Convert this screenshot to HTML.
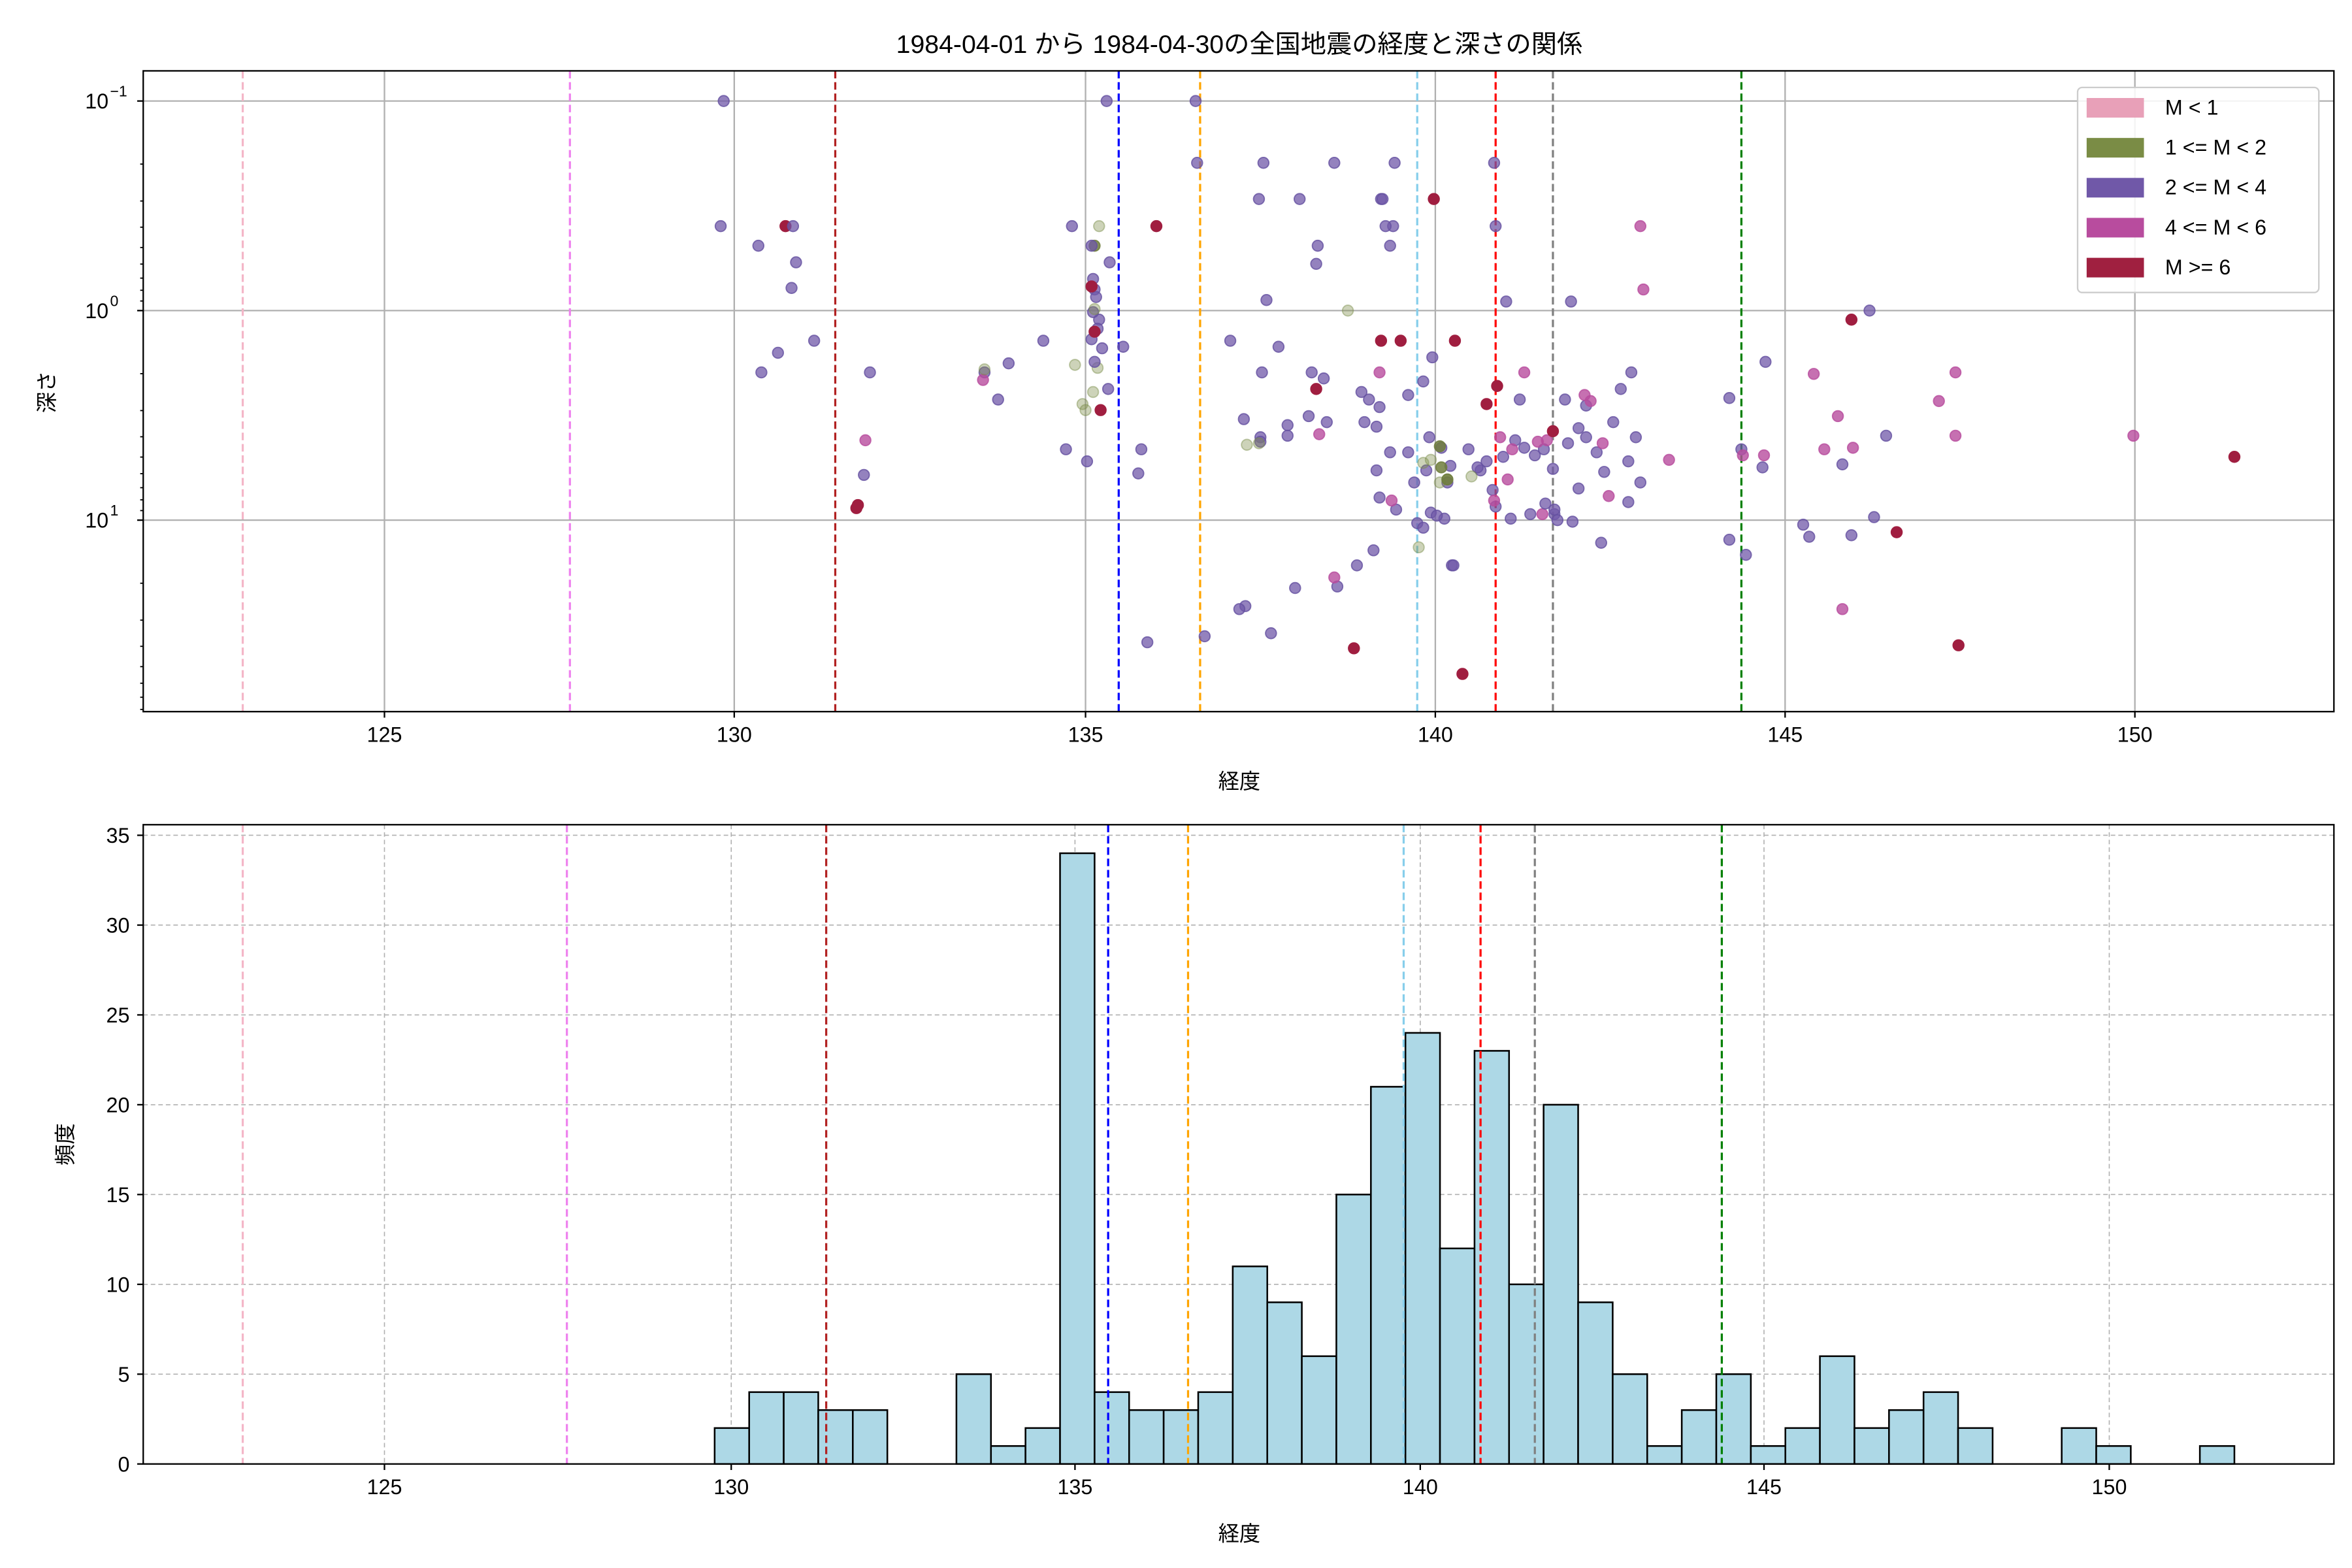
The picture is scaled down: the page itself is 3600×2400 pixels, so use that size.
<!DOCTYPE html>
<html><head><meta charset="utf-8"><style>
html,body{margin:0;padding:0;background:#fff}
svg{display:block}
text{font-family:"Liberation Sans","Noto Sans CJK JP",sans-serif;fill:#000}
</style></head><body>
<svg id="s" xmlns="http://www.w3.org/2000/svg" width="3600" height="2400" viewBox="0 0 1560 1040">
<rect width="1560" height="1040" fill="#fff"/>
<g id="top"></g><g id="bot"></g>
<text x="822" y="35" font-size="17" text-anchor="middle">1984-04-01 から 1984-04-30の全国地震の経度と深さの関係</text>
<text x="822" y="523" font-size="14" text-anchor="middle">経度</text>
<text x="822" y="1022" font-size="14" text-anchor="middle">経度</text>
<text transform="translate(36,260) rotate(-90)" font-size="14" text-anchor="middle">深さ</text>
<text transform="translate(48,759) rotate(-90)" font-size="14" text-anchor="middle">頻度</text>
</svg>
<script>
const NS="http://www.w3.org/2000/svg";
function el(p,t,a,txt){const e=document.createElementNS(NS,t);for(const k in a)e.setAttribute(k,a[k]);if(txt!==undefined)e.textContent=txt;p.appendChild(e);return e;}
const T=document.getElementById('top'),B=document.getElementById('bot');
// top axes 95..1548, 47..472
const tx=[[125,255],[130,487],[135,720],[140,952],[145,1184],[150,1416]];
tx.forEach(([v,x])=>{el(T,'line',{x1:x,x2:x,y1:47,y2:472,stroke:'#b0b0b0','stroke-width':1});el(T,'line',{x1:x,x2:x,y1:472,y2:476,stroke:'#000'});el(T,'text',{x:x,y:492,'font-size':14,'text-anchor':'middle'},v);});
[[67,'−1'],[206,'0'],[345,'1']].forEach(([y,e])=>{el(T,'line',{x1:95,x2:1548,y1:y,y2:y,stroke:'#b0b0b0','stroke-width':1});el(T,'line',{x1:91,x2:95,y1:y,y2:y,stroke:'#000'});const t=el(T,'text',{x:72,y:y+5,'font-size':14,'text-anchor':'end'},'10');el(T,'text',{x:73,y:y-3,'font-size':10},e);});
for(let d=-1;d<=1;d++)for(let m=2;m<=9;m++){const y=67+(d+1)*139+Math.log10(m)*139;if(y>47&&y<472)el(T,'line',{x1:93,x2:95,y1:y,y2:y,stroke:'#000','stroke-width':0.8});}
const vl=[['#f4b6c8',161,161],['#ee82ee',378,376],['#b22222',554,548],['#0000ff',742,735],['#ffa500',796,788],['#87ceeb',940,931],['#ff0000',992,982],['#808080',1030,1018],['#008000',1155,1142]];
vl.forEach(([c,a,b])=>{el(T,'line',{x1:a,x2:a,y1:47,y2:472,stroke:c,'stroke-width':1.4,'stroke-dasharray':'5,2.5'});});
const C={p:['rgba(112,88,168,0.75)','rgba(100,80,160,0.8)'],o:['rgba(130,145,80,0.4)','rgba(120,140,70,0.45)'],m:['rgba(184,76,158,0.8)','rgba(184,76,158,0.8)'],c:['#a01e40','#a01e40'],O:['rgba(110,125,60,0.85)','rgba(110,125,60,0.85)']};
const pts="p480,67 p734,67 p793,67 p478,150 p503,163 p528,174 p525,191 p540,226 p516,234 p505,247 p577,247 p573,315 c569,335 c568,337 m574,292 c521,150 p526,150 p653,247 m652,252 o653,245 p669,241 p662,265 p692,226 p707,298 p721,306 O726,163 o729,150 o713,242 o728,244 o718,268 o720,272 p711,150 p724,163 p736,174 p725,185 p726,192 p727,197 p729,212 p725,207 p728,218 p724,225 p731,231 p745,230 p735,258 p726,240 p757,298 p755,314 p761,426 c724,190 c726,220 c730,272 c767,150 o726,205 o725,260 p794,108 p838,108 p885,108 p835,132 p862,132 p874,163 p873,175 p840,199 p816,226 p848,230 p837,247 p870,247 p878,251 p825,278 p836,290 p836,293 p854,282 p854,289 p868,276 p880,280 p826,402 p822,404 p859,390 p843,420 p799,422 o894,206 o827,295 o835,294 c873,258 m875,288 p916,132 p925,108 p924,150 p919,150 p922,163 p917,132 c916,226 c929,226 c951,132 c965,226 p903,260 p908,265 p905,280 p915,270 p913,283 p913,312 p922,300 p934,300 p938,320 p915,330 p934,262 p944,253 p950,237 p948,290 p946,312 p956,297 p960,320 p962,309 p926,338 p949,340 p958,344 p940,347 p963,375 p944,350 p953,342 p982,312 p986,306 p992,336 p974,298 p980,310 p990,325 p997,303 p1005,292 p1011,297 p1018,302 p1024,298 p1031,341 p1033,345 p1030,311 p1038,265 p1040,294 p1047,284 p1047,324 p1052,290 p1052,269 p1059,300 p1064,313 p1070,280 p1075,258 p1082,247 p1080,306 p1085,290 p1088,320 p1062,360 o944,307 o949,305 o960,318 o955,320 o976,316 o941,363 O955,296 O960,318 O956,310 m915,247 m923,332 m1011,247 m1023,341 m1026,292 m1051,262 m1055,266 m1063,294 m1067,329 m1088,150 m1090,192 m1107,305 m1003,298 m1000,318 m1020,293 p1008,265 p1002,344 p1025,334 p1042,200 p1015,341 m991,332 m995,290 c986,268 c993,256 c1030,286 c970,447 p999,200 p992,150 p991,108 p911,365 p900,375 p887,389 m885,383 c898,430 p964,375 p1031,338 p1043,346 p1080,333 p1147,264 p1155,298 p1171,240 p1169,310 p1147,358 p1158,368 p1196,348 p1222,308 p1228,355 p1243,343 p1251,289 p1240,206 m1203,248 m1219,276 m1229,297 m1170,302 m1156,302 m1222,404 c1228,212 c1258,353 p1200,356 m1286,266 m1297,289 m1297,247 m1415,289 c1482,303 c1299,428 m1210,298";
pts.split(' ').forEach(s=>{const k=s[0];const [x,y]=s.slice(1).split(',').map(Number);el(T,'circle',{cx:x,cy:y,r:3.6,fill:C[k][0],stroke:C[k][1],'stroke-width':0.8});});
el(T,'rect',{x:95,y:47,width:1453,height:425,fill:'none',stroke:'#000','stroke-width':1});
// legend
el(T,'rect',{x:1378,y:58,width:160,height:136,fill:'rgba(255,255,255,0.85)',stroke:'#ccc',rx:3});
[['#e8a0b8','M < 1'],['#7a8c45','1 <= M < 2'],['#7058a8','2 <= M < 4'],['#b84c9e','4 <= M < 6'],['#a02040','M >= 6']].forEach(([c,t],i)=>{const y=71+i*26.5;el(T,'rect',{x:1384,y:y-6,width:38,height:13,fill:c});el(T,'text',{x:1436,y:y+5,'font-size':14},t);});
// bottom axes 95..1548, 547..971
const bx=[[125,255],[130,485],[135,713],[140,942],[145,1170],[150,1399]];
bx.forEach(([v,x])=>{el(B,'line',{x1:x,x2:x,y1:547,y2:971,stroke:'#b0b0b0','stroke-width':0.7,'stroke-dasharray':'3,2'});el(B,'line',{x1:x,x2:x,y1:971,y2:975,stroke:'#000'});el(B,'text',{x:x,y:991,'font-size':14,'text-anchor':'middle'},v);});
for(let v=0;v<=35;v+=5){const y=971-v*11.914;el(B,'line',{x1:95,x2:1548,y1:y,y2:y,stroke:'#b0b0b0','stroke-width':0.7,'stroke-dasharray':'3,2'});el(B,'line',{x1:91,x2:95,y1:y,y2:y,stroke:'#000'});el(B,'text',{x:86,y:y+5,'font-size':14,'text-anchor':'end'},v);}
const h=[2,4,4,3,3,0,0,5,1,2,34,4,3,3,4,11,9,6,15,21,24,12,23,10,20,9,5,1,3,5,1,2,6,2,3,4,2,0,0,2,1,0,0,1];
const w=(1482-474)/44;
h.forEach((v,i)=>{if(!v)return;const x=474+i*w;el(B,'rect',{x:x,y:971-v*11.914,width:w,height:v*11.914,fill:'#add8e6',stroke:'#000','stroke-width':1.1});});
vl.forEach(([c,a,b])=>{el(B,'line',{x1:b,x2:b,y1:547,y2:971,stroke:c,'stroke-width':1.4,'stroke-dasharray':'5,2.5'});});
el(B,'rect',{x:95,y:547,width:1453,height:424,fill:'none',stroke:'#000','stroke-width':1});
</script>
</body></html>
